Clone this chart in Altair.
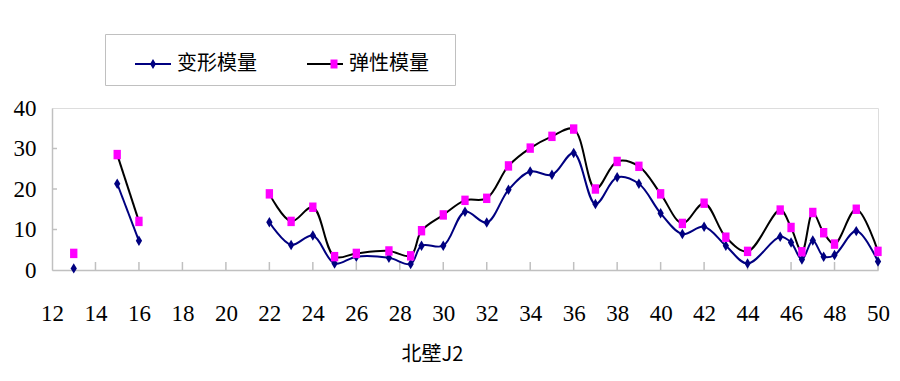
import altair as alt
import pandas as pd

# ---- data ----
x_pos = [13, 15, 16, 22, 23, 24, 25, 26, 27.5, 28.5, 29, 30, 31, 32, 33, 34, 35, 36,
         37, 38, 39, 40, 41, 42, 43, 44, 45.5, 46, 46.5, 47, 47.5, 48, 49, 50]
deform = [0.4, 21.3, 7.2, 11.8, 6.2, 8.5, 1.6, 3.3, 3.0, 1.5, 6.0, 6.0, 14.4, 11.7, 19.8, 24.3, 23.5, 28.9,
          16.3, 22.9, 21.3, 14.0, 8.9, 10.7, 6.0, 1.6, 8.2, 6.8, 2.6, 7.3, 3.3, 3.7, 9.6, 2.1]
elastic = [4.1, 28.5, 12.0, 18.8, 12.0, 15.5, 3.3, 4.1, 4.7, 3.5, 9.7, 13.6, 17.2, 17.7, 25.7, 30.1, 33.0, 34.8,
           20.0, 26.8, 25.6, 18.8, 11.5, 16.5, 8.1, 4.6, 14.8, 10.5, 4.5, 14.2, 9.2, 6.4, 15.0, 4.6]
segment = [1, 2, 2] + [3] * 31
series_names = ["变形模量", "弹性模量"]
x_tick_labels = list(range(12, 51, 2))
y_tick_labels = [0, 10, 20, 30, 40]
x_title = "北壁J2"

rows = []
for i, xv in enumerate(x_pos):
    rows.append({"x": xv, "series": series_names[0], "sm": series_names[0], "value": deform[i], "seg": segment[i]})
    rows.append({"x": xv, "series": series_names[1], "sm": series_names[1], "value": elastic[i], "seg": segment[i]})
df = pd.DataFrame(rows)

W, H = 826, 162
GRAY = "#c0c0c0"
NUMFONT = "Liberation Serif"
CJK = "Noto Sans CJK SC"

xscale = alt.Scale(domain=[12, 50], nice=False, zero=False)
yscale = alt.Scale(domain=[0, 40], nice=False, zero=False)

xaxis = alt.Axis(values=x_tick_labels, labelFont=NUMFONT, labelFontSize=23, labelColor="black",
                 labelFlush=False, labelOverlap=False, labelPadding=32, ticks=False, tickSize=0,
                 grid=False, domainColor=GRAY, domainWidth=1.5,
                 title=x_title, titleFont=CJK, titleFontSize=20, titleFontWeight="normal",
                 titleColor="black", titleX=380, titleY=74, titleBaseline="top", titleAlign="center")
yaxis = alt.Axis(values=y_tick_labels, labelFont=NUMFONT, labelFontSize=23, labelColor="black",
                 labelFlush=False, labelOverlap=False, labelPadding=16, ticks=False, tickSize=0,
                 grid=False, domainColor=GRAY, domainWidth=1.5, title=None)

LX, LY = 53, -74
DIAMOND = "M0,-1L0.6,0L0,1L-0.6,0Z"
SQUARE = "M-0.7,-0.9H0.7V0.9H-0.7Z"

legend_line = alt.Legend(orient="none", legendX=LX, legendY=LY, direction="horizontal",
                         title="\u00a0", titleOrient="left", titleFontSize=6, titlePadding=18,
                         padding=11, strokeColor=GRAY, fillColor="white",
                         symbolType="stroke", symbolSize=1296, symbolStrokeWidth=2,
                         labelFont=CJK, labelFontSize=20, labelColor="black", labelOffset=5,
                         labelExpr="datum.label + '\u2800'",
                         columnPadding=31, labelLimit=200)
legend_mark = alt.Legend(orient="none", legendX=LX + 14, legendY=LY + 14, direction="horizontal",
                         title="\u00a0", titleOrient="left", titleFontSize=6, titlePadding=18,
                         padding=11, symbolSize=100, symbolStrokeWidth=0, symbolOpacity=1,
                         labelExpr="''", labelOffset=0,
                         columnPadding=171, labelLimit=200)

base = alt.Chart(df)

lines = base.mark_line(interpolate="catmull-rom", strokeWidth=2).encode(
    x=alt.X("x:Q", scale=xscale, axis=xaxis),
    y=alt.Y("value:Q", scale=yscale, axis=yaxis),
    stroke=alt.Stroke("series:N", scale=alt.Scale(domain=series_names, range=["#000080", "#000000"]),
                      legend=legend_line),
    detail="seg:N",
)

points = base.mark_point(filled=True, size=110, opacity=1, strokeWidth=0).encode(
    x=alt.X("x:Q", scale=xscale),
    y=alt.Y("value:Q", scale=yscale),
    fill=alt.Fill("sm:N", scale=alt.Scale(range=["#000080", "#FF00FF"]), legend=legend_mark),
    shape=alt.Shape("sm:N", scale=alt.Scale(range=[DIAMOND, SQUARE]), legend=legend_mark),
    order=alt.Order("sm:N"),
)

xt = alt.Chart(pd.DataFrame({"x": x_tick_labels[1:]})).mark_rule(color=GRAY, strokeWidth=1.5).encode(
    x=alt.X("x:Q", scale=xscale), y=alt.value(H - 8), y2=alt.value(H))
yt = alt.Chart(pd.DataFrame({"value": y_tick_labels[1:-1]})).mark_rule(color=GRAY, strokeWidth=1.5).encode(
    y=alt.Y("value:Q", scale=yscale), x=alt.value(0), x2=alt.value(5))

chart = alt.layer(xt, yt, lines, points).properties(
    width=W, height=H,
    autosize=alt.AutoSizeParams(type="none"),
    padding={"left": 44, "top": 100, "right": 14, "bottom": 103},
).configure_view(stroke=GRAY, strokeWidth=1.5).configure(background="white")

chart.save("out.html", embed_options={"renderer": "svg", "actions": False})
